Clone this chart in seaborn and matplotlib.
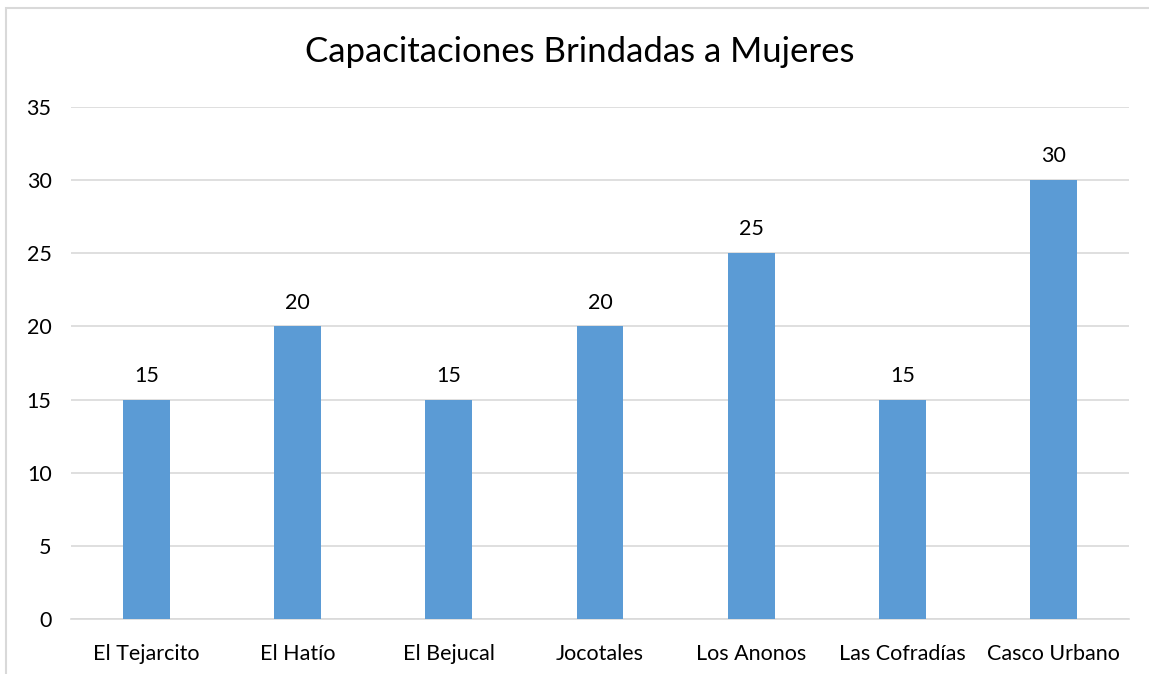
import matplotlib
matplotlib.use("Agg")
import matplotlib.pyplot as plt
import seaborn as sns
import pandas as pd
from matplotlib.patches import Rectangle

# --- data ---
comunidades = ["El Tejarcito", "El Hatío", "El Bejucal", "Jocotales",
               "Los Anonos", "Las Cofradías", "Casco Urbano"]
capacitaciones = [15, 20, 15, 20, 25, 15, 30]
y_ticks = [0, 5, 10, 15, 20, 25, 30, 35]

df = pd.DataFrame({"Comunidad": comunidades, "Capacitaciones": capacitaciones})

sns.set_style("white")
plt.rcParams["font.family"] = ["Lato", "DejaVu Sans"]
plt.rcParams["text.color"] = "black"

fig = plt.figure(figsize=(11.49, 6.74), dpi=100)
ax = fig.add_axes([71 / 1149, 1 - 619 / 674, (1129 - 71) / 1149, (619 - 107) / 674])

sns.barplot(data=df, x="Comunidad", y="Capacitaciones", color="#5B9BD5",
            width=0.31, saturation=1, linewidth=0, ax=ax, zorder=3)

ax.set_ylim(0, 35)
ax.set_xlim(-0.5, len(comunidades) - 0.5)
ax.set_yticks(y_ticks)
ax.grid(axis="y", color="#D9D9D9", linewidth=1.2, zorder=0)
ax.set_axisbelow(True)
for s in ["top", "right", "left"]:
    ax.spines[s].set_visible(False)
ax.spines["bottom"].set_color("#D9D9D9")
ax.spines["bottom"].set_linewidth(1.2)
ax.tick_params(axis="both", length=0, labelsize=15.5, labelcolor="black", pad=14)
ax.tick_params(axis="x", pad=18)
ax.set_xlabel("")
ax.set_ylabel("")

for c in ax.containers:
    ax.bar_label(c, labels=[str(v) for v in capacitaciones], padding=10,
                 fontsize=15.5, color="black")

fig.text(0.505, 1 - 52 / 674, "Capacitaciones Brindadas a Mujeres",
         ha="center", va="center", fontsize=25, color="black")

# light frame of the chart area
fig.patches.append(Rectangle((6 / 1149, -0.05), 1.2, 1 - 8 / 674 + 0.05,
                             transform=fig.transFigure, fill=False,
                             edgecolor="#D9D9D9", linewidth=1.5))

fig.savefig("out.png", dpi=100)
